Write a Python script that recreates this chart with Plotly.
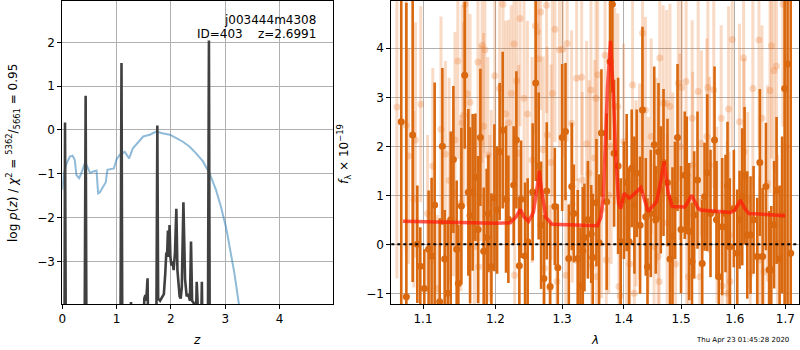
import plotly.graph_objects as go

# ---------------- left panel: redshift PDF ----------------
z_pz = [0.0, 0.03, 0.08, 0.14, 0.19, 0.23, 0.26, 0.31, 0.35, 0.42, 0.46, 0.51, 0.57, 0.63,
        0.66, 0.69, 0.75, 0.80, 0.83, 0.87, 0.95, 1.00, 1.06, 1.15, 1.23, 1.30, 1.39, 1.49,
        1.61, 1.73, 1.86, 1.98, 2.10, 2.22, 2.34, 2.46, 2.59, 2.71, 2.83, 2.92, 3.02, 3.11,
        3.17, 3.25, 3.35, 3.50]
logp_pz = [-1.37, -0.99, -0.76, -0.61, -0.59, -0.69, -1.03, -1.10, -0.99, -0.74, -0.84, -0.98,
           -0.95, -0.93, -1.45, -1.43, -1.30, -1.20, -0.91, -0.90, -0.88, -0.67, -0.57, -0.50,
           -0.65, -0.42, -0.29, -0.15, -0.11, -0.04, -0.08, -0.11, -0.19, -0.27, -0.38, -0.53,
           -0.72, -0.99, -1.37, -1.75, -2.25, -2.82, -3.28, -3.96, -4.8, -6.0]

z_chi = [0.0, 0.04, 0.05, 0.065, 0.41, 0.43, 0.445, 1.07, 1.09, 1.105, 1.24, 1.265, 1.28,
         1.49, 1.51, 1.53, 1.545, 1.57, 1.585, 1.73, 1.75, 1.765, 1.80, 1.84, 1.87, 1.895,
         1.915, 1.93, 1.945, 1.96, 1.975, 1.99, 2.01, 2.03, 2.05, 2.075, 2.10, 2.12, 2.14,
         2.16, 2.18, 2.20, 2.23, 2.26, 2.29, 2.32, 2.35, 2.37, 2.39, 2.42, 2.45, 2.475, 2.49,
         2.51, 2.55, 2.57, 2.585, 2.68, 2.70, 2.715, 4.99]
logp_chi = [-5, -5, 0.17, -5, -5, 0.78, -5, -5, 1.53, -5, -5, -3.93, -5,
            -5, -3.85, -3.77, -3.90, -3.39, -5, -5, 0.10, -3.85, -3.90, -3.82, -3.75, -3.30,
            -2.80, -2.85, -2.30, -2.90, -2.17, -2.90, -3.10, -3.00, -3.20, -2.80, -1.80, -3.20, -3.50,
            -3.80, -3.85, -3.60, -1.65, -3.40, -3.80, -3.75, -3.90, -2.55, -3.90, -3.95, -5, -3.47, -3.90,
            -5, -5, -3.47, -5, -5, 2.04, -5, -5]

# ---------------- right panel: spectrum ----------------
wave_a = [1.0716, 1.0782, 1.0864, 1.0925, 1.0964, 1.1017, 1.1074, 1.1114, 1.1155, 1.1223,
          1.1259, 1.1290, 1.1331, 1.1372, 1.1409, 1.1454, 1.1477, 1.1519, 1.1565, 1.1616,
          1.1640, 1.1676, 1.1714, 1.1752, 1.1785, 1.1832, 1.1874, 1.1899, 1.1942, 1.1985,
          1.2024, 1.2061, 1.2105, 1.2154, 1.2188, 1.2266, 1.2306, 1.2350, 1.2375, 1.2435,
          1.2474, 1.2549, 1.2595, 1.2640, 1.2677, 1.2720, 1.2763, 1.2816, 1.2887, 1.2934,
          1.3002, 1.3054, 1.3106, 1.3153, 1.3185, 1.3248, 1.3291, 1.3328, 1.3355, 1.3410,
          1.3464, 1.3489, 1.3549, 1.3592, 1.3630, 1.3717, 1.3772, 1.3811, 1.3839, 1.3906,
          1.3949, 1.4003, 1.4050, 1.4091, 1.4135, 1.4181, 1.4220, 1.4278, 1.4319, 1.4376,
          1.4406, 1.4463, 1.4523, 1.4550, 1.4598, 1.4638, 1.4686, 1.4756, 1.4801, 1.4845,
          1.4890, 1.4935, 1.4998, 1.5066, 1.5102, 1.5146, 1.5197, 1.5237, 1.5298, 1.5385,
          1.5428, 1.5478, 1.5539, 1.5614, 1.5651, 1.5695, 1.5759, 1.5822, 1.5860, 1.5904,
          1.5981, 1.6046, 1.6091, 1.6143, 1.6188, 1.6241, 1.6305, 1.6364, 1.6437, 1.6488,
          1.6543, 1.6609, 1.6672, 1.6716, 1.6773, 1.6823, 1.6884, 1.6935, 1.6986, 1.7047,
          1.7111]
flux_a = [2.50, -1.07, 2.23, 0.00, -0.45, -0.90, -0.10, -0.24, 0.80, -1.17,
          2.00, -0.30, -1.00, 0.50, 1.73, -0.10, -0.80, 0.78, 3.45, 1.06,
          0.59, 1.06, 1.37, 0.30, 2.18, -0.14, 0.14, 0.63, -0.46, 0.95,
          0.70, 1.89, 2.33, 0.92, 0.51, 1.21, 2.13, -0.44, 0.92, -0.24,
          0.05, 1.07, 3.29, 1.60, 0.39, -0.70, 1.09, -0.86, 0.77, -0.48,
          2.18, 2.30, -0.29, 1.18, 0.63, -0.29, -0.85, -0.13, 0.14, 0.50,
          0.21, -0.27, 0.85, 0.03, 2.27, 0.87, 3.73, 4.90, 1.86, 1.60,
          0.05, 0.90, 1.26, 0.05, 1.55, 0.80, 1.45, 0.39, 2.74, 0.56,
          -0.46, 0.63, 2.03, 0.50, 1.89, 1.11, 1.67, 1.26, -0.30, 0.17,
          0.90, 2.18, 0.30, 1.41, 1.41, 0.26, -0.35, 0.60, 1.31, -0.39,
          0.97, 1.46, 0.63, 2.13, 0.50, -0.66, 0.36, 0.63, 1.20, -0.05,
          0.73, -0.18, 0.50, 0.97, 1.40, 0.19, 0.19, 0.50, -0.25, 1.67,
          -0.25, 1.18, -0.52, -0.52, 0.40, 1.10, -0.30, 0.60, 3.18, 3.68,
          -0.18]
err_a = [6.0, 6.0, 3.0, 1.2, 0.8, 0.8, 1.2, 1.6, 2.5, 1.7,
         1.6, 1.0, 1.5, 1.8, 1.5, 1.4, 1.2, 1.6, 1.5, 1.7,
         1.8, 1.6, 1.3, 1.5, 1.4, 1.3, 1.4, 1.2, 1.5, 1.5,
         1.3, 1.4, 1.6, 1.5, 1.3, 1.2, 1.4, 1.4, 1.2, 1.5,
         1.3, 1.4, 2.0, 1.5, 1.3, 1.3, 1.4, 1.3, 1.2, 1.3,
         1.5, 1.4, 1.1, 1.3, 1.0, 1.4, 1.2, 1.3, 1.1, 1.2,
         1.0, 1.3, 1.3, 1.4, 1.3, 1.8, 1.6, 1.8, 1.5, 1.8,
         1.3, 1.2, 1.4, 1.5, 1.2, 1.4, 1.3, 1.4, 1.7, 1.2,
         1.4, 1.3, 1.6, 1.1, 1.4, 1.3, 1.5, 1.3, 1.3, 1.4,
         1.2, 1.5, 1.3, 1.3, 1.2, 1.4, 1.2, 1.3, 1.4, 1.3,
         1.1, 1.6, 1.3, 1.5, 1.2, 1.3, 1.4, 1.2, 1.3, 1.4,
         1.2, 1.3, 1.0, 1.4, 1.4, 1.3, 1.2, 1.1, 1.2, 1.5,
         1.4, 1.3, 1.2, 1.3, 1.3, 1.5, 1.5, 1.6, 6.0, 6.0,
         6.0]

wave_b = [1.066, 1.078, 1.081, 1.088, 1.090, 1.097, 1.106, 1.113, 1.119, 1.124,
          1.130, 1.135, 1.141, 1.143, 1.147, 1.151, 1.153, 1.155, 1.157, 1.160,
          1.164, 1.170, 1.175, 1.176, 1.179, 1.181, 1.183, 1.185, 1.189, 1.192,
          1.194, 1.199, 1.206, 1.211, 1.215, 1.219, 1.223, 1.227, 1.228, 1.231,
          1.234, 1.236, 1.242, 1.247, 1.254, 1.259, 1.262, 1.264, 1.267, 1.271,
          1.273, 1.276, 1.277, 1.281, 1.283, 1.285, 1.289, 1.292, 1.296, 1.301,
          1.306, 1.308, 1.315, 1.316, 1.323, 1.325, 1.331, 1.332, 1.339, 1.343,
          1.346, 1.347, 1.352, 1.354, 1.355, 1.357, 1.363, 1.369, 1.371, 1.375,
          1.379, 1.385, 1.390, 1.392, 1.394, 1.400, 1.405, 1.410, 1.415, 1.418,
          1.421, 1.427, 1.432, 1.437, 1.442, 1.447, 1.452, 1.456, 1.459, 1.461,
          1.462, 1.468, 1.474, 1.475, 1.480, 1.485, 1.490, 1.495, 1.498, 1.501,
          1.509, 1.510, 1.513, 1.520, 1.521, 1.531, 1.534, 1.537, 1.547, 1.549,
          1.552, 1.560, 1.566, 1.574, 1.576, 1.585, 1.586, 1.588, 1.589, 1.591,
          1.595, 1.609, 1.617, 1.618, 1.625, 1.630, 1.635, 1.647, 1.648, 1.653,
          1.657, 1.664, 1.669, 1.672, 1.677, 1.682, 1.684, 1.695, 1.702]
flux_b = [2.80, 2.43, 1.80, 0.92, 2.13, 2.86, 0.63, 1.60, -0.90, 2.35,
          1.84, 1.30, 1.05, 2.13, 3.74, 0.84, 2.48, 2.64, 4.90, 3.07,
          2.90, -0.05, 3.72, -0.46, 2.07, 4.06, 2.41, 3.97, 1.82, 0.53,
          0.84, 3.44, 3.18, 4.90, 2.66, 2.48, 3.08, 4.09, -0.63, 3.34,
          1.86, 4.61, 2.98, 2.66, 1.72, 4.46, 4.34, 3.78, 4.74, 1.93,
          -0.49, 4.88, 2.23, -0.90, 1.67, 3.08, 4.39, -0.76, 3.97, 3.98,
          -0.63, 4.10, 2.47, 0.82, 3.39, -0.35, 3.41, 1.31, 2.05, 1.45,
          3.15, -0.46, 1.76, 2.98, -0.66, 3.46, 0.70, 3.86, -0.32, 1.00,
          2.00, 2.82, 2.81, -0.86, -1.05, 2.10, 0.50, -0.40, 3.25, -1.00,
          1.04, 1.28, 4.31, 2.74, 0.80, 2.20, -0.05, 1.50, -0.25, -0.76,
          3.80, 2.88, 2.88, 0.44, 2.81, 1.20, -0.40, 3.29, 1.99, 3.20,
          3.32, 0.29, -0.66, 2.57, 1.62, 3.12, -0.66, 2.06, 2.20, 3.20,
          1.62, 3.15, 0.60, 2.57, -0.85, 0.31, -1.00, 2.76, 0.19, -0.76,
          4.18, 2.50, 3.80, 1.89, 0.90, -0.60, 3.18, 4.17, -0.32, 2.57,
          -0.56, 1.24, 3.14, 4.05, 3.54, 3.64, 0.02, 4.90, 2.00]
err_b = [3.5, 2.6, 2.2, 1.8, 2.4, 2.0, 1.6, 2.0, 1.5, 2.3,
         1.9, 2.1, 1.7, 2.2, 2.0, 1.8, 2.4, 1.9, 2.1, 2.3,
         1.8, 1.6, 2.2, 1.5, 2.0, 2.4, 1.9, 2.1, 2.0, 1.7,
         1.9, 2.3, 2.0, 2.2, 1.9, 2.1, 1.8, 2.3, 1.6, 2.0,
         1.8, 2.2, 2.0, 1.9, 2.1, 2.2, 1.8, 2.3, 2.0, 1.9,
         1.6, 2.2, 1.8, 1.7, 2.0, 2.1, 2.3, 1.6, 2.0, 2.2,
         1.7, 2.0, 1.9, 1.6, 2.1, 1.7, 2.0, 1.8, 2.1, 1.9,
         2.0, 1.6, 2.0, 2.2, 1.6, 2.0, 1.8, 2.2, 1.7, 2.0,
         2.4, 2.0, 1.9, 1.6, 1.7, 2.0, 1.8, 1.7, 2.1, 1.6,
         1.9, 2.0, 2.2, 1.9, 1.8, 2.0, 1.7, 1.9, 1.6, 1.7,
         2.2, 2.0, 1.9, 1.8, 2.1, 1.9, 1.7, 2.0, 1.9, 2.2,
         2.0, 1.7, 1.6, 2.0, 1.9, 2.1, 1.6, 1.9, 2.0, 2.2,
         1.8, 2.0, 1.8, 1.9, 1.6, 1.8, 1.6, 2.1, 1.7, 1.6,
         2.2, 2.0, 2.1, 1.9, 1.8, 1.6, 2.0, 2.2, 1.7, 1.9,
         1.6, 2.0, 2.1, 2.3, 2.0, 2.2, 1.8, 2.5, 4.0]

wave_m = [1.0738, 1.10, 1.15, 1.20, 1.2217, 1.2300, 1.2365, 1.2420, 1.2488, 1.2560,
          1.2610, 1.2648, 1.2690, 1.2750, 1.2845, 1.30, 1.33, 1.3565, 1.3620, 1.3660,
          1.3730, 1.3780, 1.3830, 1.3870, 1.3915, 1.3950, 1.4007, 1.4095, 1.4200, 1.4289,
          1.4418, 1.4565, 1.4640, 1.4695, 1.4771, 1.4841, 1.5068, 1.5190, 1.5313, 1.5356,
          1.5918, 1.6000, 1.6111, 1.6200, 1.6272, 1.70]
flux_m = [0.47, 0.46, 0.45, 0.43, 0.44, 0.56, 0.71, 0.56, 0.47, 0.65,
          1.10, 1.50, 1.05, 0.55, 0.41, 0.40, 0.39, 0.38, 0.55, 0.95,
          3.20, 4.15, 2.95, 1.72, 0.84, 0.73, 1.04, 0.94, 1.05, 1.16,
          0.67, 0.87, 1.30, 1.69, 1.04, 0.77, 0.76, 1.00, 0.73, 0.70,
          0.65, 0.70, 0.90, 0.72, 0.63, 0.585]

x_ticks_left = [0, 1, 2, 3, 4]
y_ticks_left = [-3, -2, -1, 0, 1, 2]
x_ticks_right = [1.1, 1.2, 1.3, 1.4, 1.5, 1.6, 1.7]
y_ticks_right = [-1, 0, 1, 2, 3, 4]

FONT = "DejaVu Sans"
DARK = "#d9680f"
LIGHT = "rgba(232,120,40,0.27)"
GRID = "#b0b0b0"

fig = go.Figure()

# left panel traces
fig.add_trace(go.Scatter(x=z_pz, y=logp_pz, mode="lines",
                         line=dict(color="rgba(31,119,180,0.5)", width=2),
                         xaxis="x", yaxis="y", showlegend=False))
fig.add_trace(go.Scatter(x=z_chi, y=logp_chi, mode="lines",
                         line=dict(color="#404040", width=2.6),
                         xaxis="x", yaxis="y", showlegend=False))

# right panel traces
fig.add_trace(go.Scatter(x=wave_b, y=flux_b, mode="markers",
                         marker=dict(color=LIGHT, size=7, line=dict(width=0)),
                         error_y=dict(type="data", array=err_b, color=LIGHT,
                                      thickness=3, width=0),
                         xaxis="x2", yaxis="y2", showlegend=False))
fig.add_trace(go.Scatter(x=wave_a, y=flux_a, mode="markers",
                         marker=dict(color=DARK, size=7, line=dict(width=0)),
                         error_y=dict(type="data", array=err_a, color=DARK,
                                      thickness=2.6, width=0),
                         xaxis="x2", yaxis="y2", showlegend=False))
fig.add_trace(go.Scatter(x=wave_m, y=flux_m, mode="lines",
                         line=dict(color="rgba(255,25,10,0.72)", width=3.5),
                         xaxis="x2", yaxis="y2", showlegend=False))

fig.add_shape(type="line", xref="x2 domain", yref="y2", x0=0, x1=1, y0=0, y1=0,
              line=dict(color="black", width=2, dash="dot"), layer="above")

axis_common = dict(showgrid=True, gridcolor=GRID, gridwidth=1, zeroline=False,
                   showline=True, linecolor="black", linewidth=1, mirror=True,
                   ticks="outside", ticklen=4, tickcolor="black",
                   tickfont=dict(family=FONT, size=12, color="black"))

yb, yt = 1 - 304 / 350, 1 - 1 / 350
fig.update_layout(
    width=800, height=350,
    margin=dict(l=0, r=0, t=0, b=0, autoexpand=False),
    paper_bgcolor="white", plot_bgcolor="white",
    xaxis=dict(domain=[62.3 / 800, 333.3 / 800], range=[0, 4.99],
               tickvals=x_ticks_left, anchor="y", **axis_common),
    yaxis=dict(domain=[yb, yt], range=[-3.975, 2.943],
               tickvals=y_ticks_left, anchor="x", **axis_common),
    xaxis2=dict(domain=[391.3 / 800, 799.3 / 800], type="log",
                range=[0.02484, 0.23776], tickvals=x_ticks_right,
                ticktext=[str(v) for v in x_ticks_right], anchor="y2", **axis_common),
    yaxis2=dict(domain=[yb, yt], range=[-1.218, 4.965],
                tickvals=y_ticks_right, anchor="x2", **axis_common),
)

ann_font = dict(family=FONT, size=12, color="black")
fig.add_annotation(text="j003444m4308", xref="paper", yref="paper",
                   x=318 / 800, y=1 - 20 / 350, xanchor="right", yanchor="middle",
                   showarrow=False, font=ann_font)
fig.add_annotation(text="ID=403\u00a0\u00a0\u00a0\u00a0z=2.6991", xref="paper", yref="paper",
                   x=318 / 800, y=1 - 34 / 350, xanchor="right", yanchor="middle",
                   showarrow=False, font=ann_font)
fig.add_annotation(text="<i>z</i>", xref="paper", yref="paper",
                   x=197 / 800, y=1 - 340 / 350, xanchor="center", yanchor="middle",
                   showarrow=False, font=ann_font)
fig.add_annotation(text="<i>λ</i>", xref="paper", yref="paper",
                   x=595 / 800, y=1 - 340 / 350, xanchor="center", yanchor="middle",
                   showarrow=False, font=ann_font)
fig.add_annotation(text="log <i>p</i>(<i>z</i>) / <i>χ</i><sup>2</sup> = <sup>5362</sup>/<sub>5661</sub> = 0.95",
                   xref="paper", yref="paper", x=13 / 800, y=1 - 153 / 350,
                   xanchor="center", yanchor="middle", textangle=-90,
                   showarrow=False, font=ann_font)
fig.add_annotation(text="<i>f</i><sub>λ</sub> × 10<sup>−19</sup>",
                   xref="paper", yref="paper", x=344 / 800, y=1 - 154 / 350,
                   xanchor="center", yanchor="middle", textangle=-90,
                   showarrow=False, font=ann_font)
fig.add_annotation(text="Thu Apr 23 01:45:28 2020", xref="paper", yref="paper",
                   x=742 / 800, y=1 - 340 / 350, xanchor="center", yanchor="middle",
                   showarrow=False, font=dict(family=FONT, size=7, color="black"))

fig.write_html("out.html", config={"displayModeBar": False},
               post_script="document.body.style.margin='0';document.body.style.padding='0';"
                           "document.body.style.overflow='hidden';")
